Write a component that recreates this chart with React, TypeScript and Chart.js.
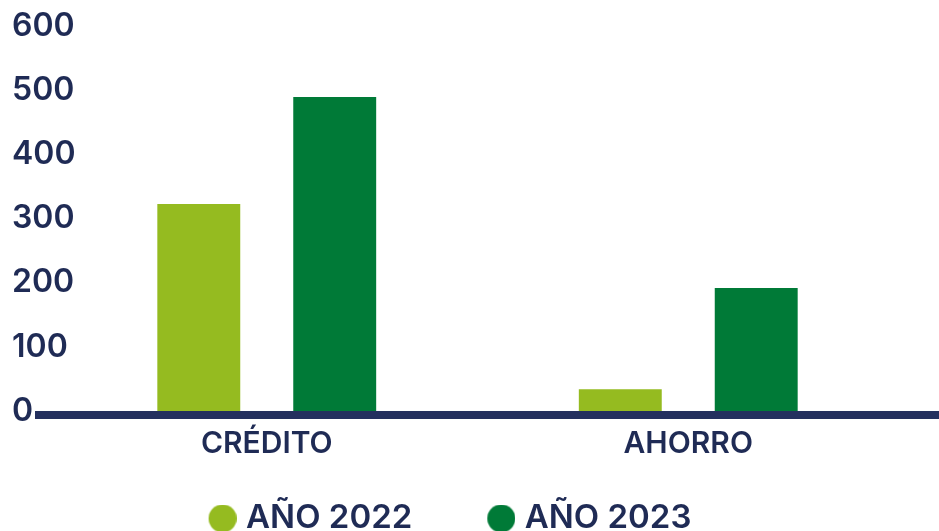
import { useEffect, useRef } from "react";
import { Chart, registerables } from "chart.js";

Chart.register(...registerables);

// ---- data ----
const categories = ["CRÉDITO", "AHORRO"];
const seriesNames = ["AÑO 2022", "AÑO 2023"];
const values2022 = [323, 34];
const values2023 = [490, 192];
const seriesColors = ["#95bb20", "#007a37"];
const yMin = 0;
const yMax = 600;
const yStep = 100;

// ---- style ----
const NAVY = "#1f2b55";
const AXIS = "#24305e";
const FONT = "Inter, 'Noto Sans', sans-serif";

// legend marker: circle placed at the right end of a wider transparent image
function dot(color: string, w: number, d: number) {
  const c = document.createElement("canvas");
  c.width = w;
  c.height = d;
  const g = c.getContext("2d")!;
  g.fillStyle = color;
  g.beginPath();
  g.arc(w - d / 2, d / 2, d / 2, 0, Math.PI * 2);
  g.fill();
  return c;
}

const axisLine = {
  id: "axisLine",
  afterDatasetsDraw(chart: any) {
    const { ctx, chartArea, width } = chart;
    const x0 = chartArea.left - 21;
    ctx.save();
    ctx.fillStyle = AXIS;
    ctx.fillRect(x0, chartArea.bottom, width - x0, 8);
    ctx.restore();
  },
};

const legendShift = {
  id: "legendShift",
  afterLayout(chart: any) {
    const lg = chart.legend;
    if (lg) {
      lg.left -= 23;
      lg.right -= 23;
    }
  },
};

export default function App() {
  const ref = useRef<HTMLCanvasElement | null>(null);

  useEffect(() => {
    document.body.style.margin = "0";
    const canvas = ref.current;
    if (!canvas) return;
    const dots = seriesColors.map((c) => dot(c, 70, 28));
    const chart = new Chart(canvas, {
      type: "bar",
      data: {
        labels: categories,
        datasets: [
          { label: seriesNames[0], data: values2022, backgroundColor: seriesColors[0] },
          { label: seriesNames[1], data: values2023, backgroundColor: seriesColors[1] },
        ],
      },
      options: {
        animation: false,
        responsive: false,
        layout: { padding: { left: 12, right: 40, top: 26.5, bottom: 0 } },
        datasets: { bar: { categoryPercentage: 0.645, barPercentage: 0.61 } },
        scales: {
          x: {
            grid: { display: false, drawTicks: false },
            border: { display: false },
            ticks: {
              color: NAVY,
              padding: 15,
              font: { family: FONT, size: 30, weight: 600 },
            },
            afterFit: (s: any) => {
              s.height = 51;
            },
          },
          y: {
            min: yMin,
            max: yMax,
            grid: { display: false, drawTicks: false },
            border: { display: false },
            ticks: {
              stepSize: yStep,
              mirror: true,
              crossAlign: "near",
              padding: -44,
              color: NAVY,
              font: { family: FONT, size: 32, weight: 600 },
            },
            afterFit: (s: any) => {
              s.width = 44;
            },
          },
        },
        plugins: {
          tooltip: { enabled: false },
          legend: {
            position: "bottom",
            maxHeight: 69,
            labels: {
              usePointStyle: true,
              pointStyleWidth: 56,
              boxWidth: 56,
              boxHeight: 28,
              padding: 40,
              color: NAVY,
              font: { family: FONT, size: 33, weight: 600 },
              generateLabels: (ch: any) => {
                const items = Chart.defaults.plugins.legend.labels.generateLabels(ch);
                return items.map((it: any, i: number) => ({ ...it, pointStyle: dots[i] }));
              },
            },
          },
        },
      } as any,
      plugins: [axisLine, legendShift],
    });
    return () => chart.destroy();
  }, []);

  return (
    <div style={{ width: 939, height: 531 }}>
      <canvas ref={ref} width={939} height={531} style={{ display: "block" }} />
    </div>
  );
}
